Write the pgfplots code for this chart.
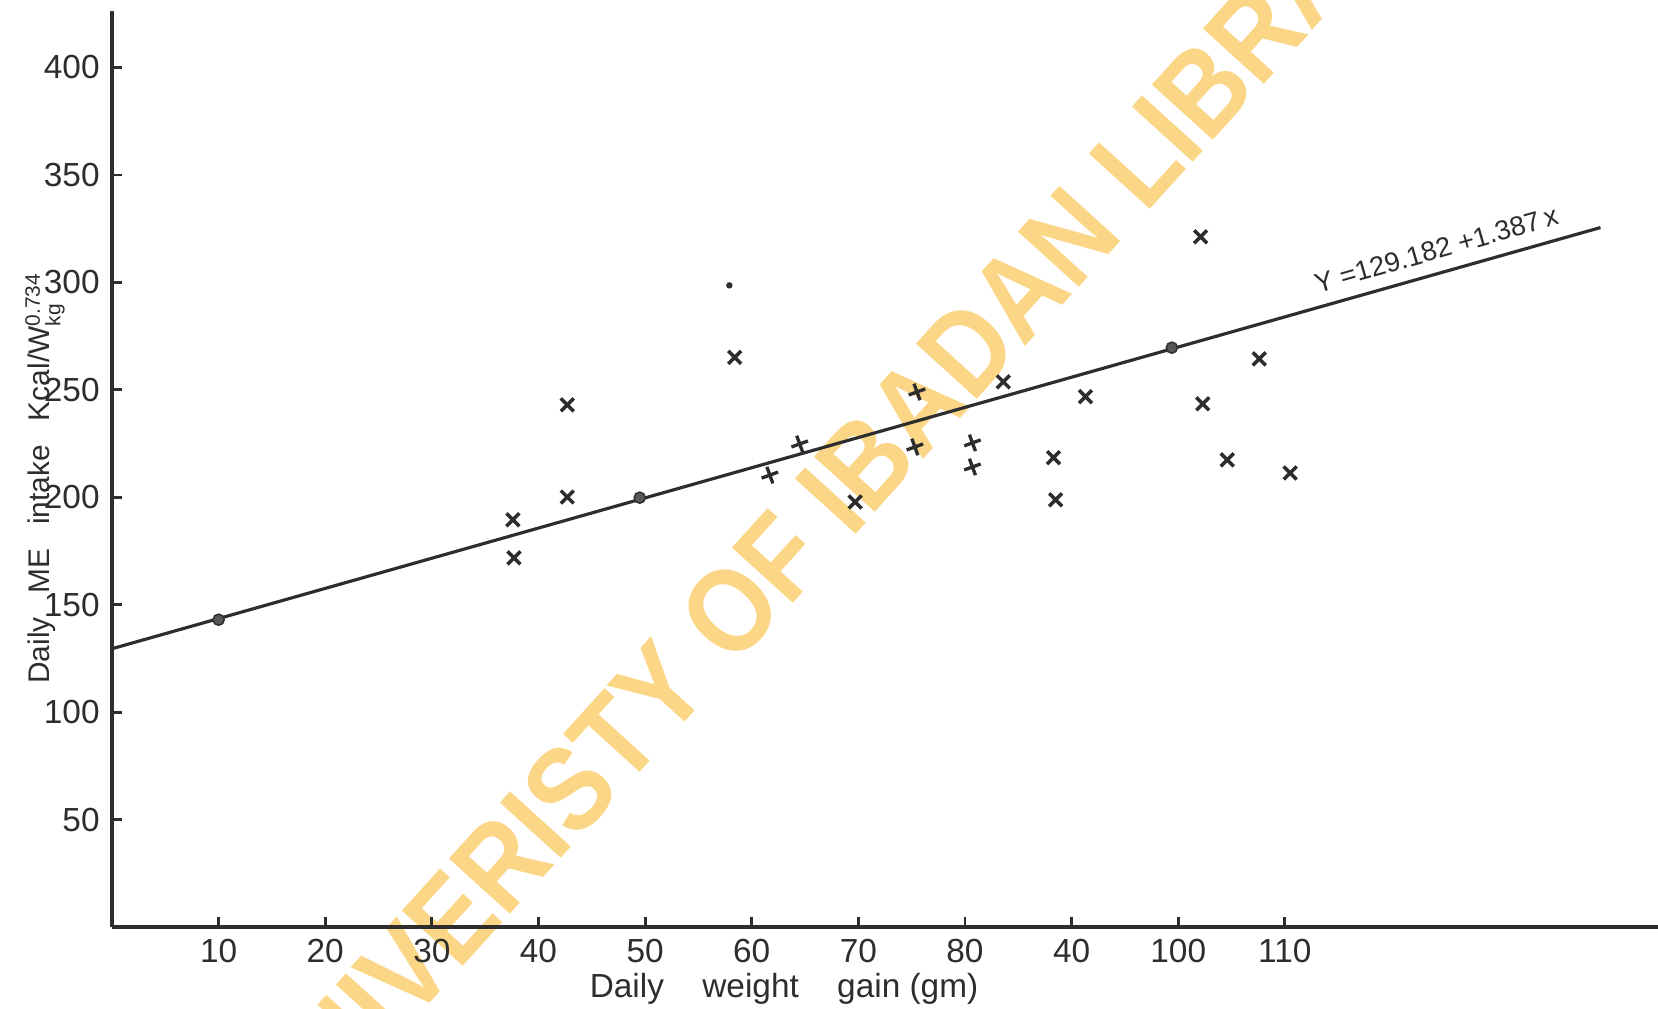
\documentclass[border=0pt]{standalone}
\usepackage{fontspec}
\setmainfont{Liberation Sans}
\usepackage{amsmath}
\usepackage{pgfplots}
\usepackage{pgfplotstable}
\pgfplotsset{compat=1.18}
\definecolor{wm}{RGB}{252,214,135}
\definecolor{ink}{RGB}{45,45,45}

\pgfplotstableread{
x y
37.6 189.5
37.7 171.8
42.7 243.0
42.7 200.1
58.4 265.1
69.7 197.8
83.6 253.7
88.3 218.4
88.5 198.8
91.3 246.8
102.1 321.2
102.3 243.5
104.6 217.4
107.6 264.4
110.5 211.3
}\xdata
\pgfplotstableread{
x y
61.7 210.3
64.5 224.8
75.5 249.0
75.3 223.4
80.7 225.3
80.7 214.1
}\pdata
\pgfplotstableread{
x y
10.0 143.0
49.5 199.8
99.4 269.6
}\odata

\begin{document}
\begin{tikzpicture}
\path[use as bounding box] (0,0) rectangle (165.8mm,100.8mm);
\begin{scope}
\clip (0,0) rectangle (165.8mm,100.8mm);
\node[rotate=47.8, text=wm, font=\fontsize{34}{34}\selectfont\bfseries, inner sep=0] at (84.3mm,52.1mm) {\scalebox{0.88}[1]{UNIVERISTY OF IBADAN LIBRARY}};
\end{scope}
\begin{axis}[
  at={(11.2mm,8.1mm)}, anchor=south west,
  scale only axis, width=154.6mm, height=91.6mm,
  xmin=0, xmax=145, ymin=0, ymax=426.3,
  axis lines=left,
  axis line style={-, line width=1pt, ink},
  tick align=inside, major tick length=1mm,
  tick style={ink, line width=0.8pt},
  xtick={10,20,...,110},
  xticklabels={10,20,30,40,50,60,70,80,40,100,110},
  ytick={50,100,...,400},
  tick label style={font=\fontsize{9.5}{9.5}\selectfont, text=ink},
  /pgf/number format/assume math mode=true,
  clip=false]
\addplot[ink, line width=0.9pt] coordinates {(0,129.5) (139.6,325.5)};
\addplot[only marks, mark=x, mark size=2.6pt, mark options={ink, line width=1.0pt}] table {\xdata};
\addplot[only marks, mark=+, mark size=2.5pt, mark options={ink, line width=0.95pt, rotate=20}] table {\pdata};
\addplot[only marks, mark=*, mark size=1.6pt, mark options={fill=ink!80, draw=ink}] table {\odata};
\addplot[only marks, mark=*, mark size=0.7pt, mark options={fill=ink, draw=ink}] coordinates {(57.9,298.6)};
\node[rotate=16, font=\fontsize{7.8}{7.8}\selectfont, text=ink] at (axis cs:124.2,315.2) {Y =129.182 +1.387\,x};
\node[rotate=90, font=\fontsize{8.5}{8.5}\selectfont, text=ink] at ([shift={(-6.7mm,44.9mm)}]rel axis cs:0,0) {Daily\hspace{0.8em}ME\hspace{0.8em}intake\hspace{0.8em}Kcal/W$^{\text{0.734}}_{\text{kg}}$};
\node[font=\fontsize{9.5}{9.5}\selectfont, text=ink] at ([shift={(0mm,-6.2mm)}]rel axis cs:0.4347,0) {Daily\hspace{1.15em}weight\hspace{1.15em}gain (gm)};
\end{axis}
\end{tikzpicture}
\end{document}
